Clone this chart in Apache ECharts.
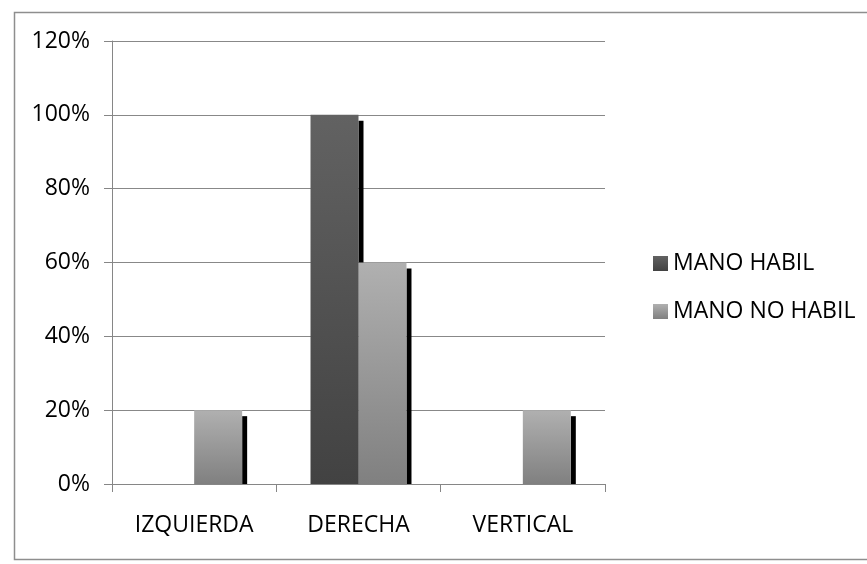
<!DOCTYPE html>
<html>
<head>
<meta charset="utf-8">
<script src="https://cdn.jsdelivr.net/npm/echarts@6/dist/echarts.min.js"></script>
<style>
  html, body { margin: 0; padding: 0; background: #fff; }
  #chart { width: 867px; height: 564px; }
</style>
</head>
<body>
<div id="chart"></div>
<script>
const categories = ['IZQUIERDA', 'DERECHA', 'VERTICAL']
const seriesNames = ['MANO HABIL', 'MANO NO HABIL']
const manoHabil = [0, 1.0, 0]
const manoNoHabil = [0.2, 0.6, 0.2]
const yTicks = [0, 0.2, 0.4, 0.6, 0.8, 1.0, 1.2]

const fontFamily = '"Open Sans", sans-serif'
const fontSize = 23

function grad(top, bottom) {
    return new echarts.graphic.LinearGradient(0, 0, 0, 1, [
        { offset: 0, color: top },
        { offset: 1, color: bottom }
    ])
}

const fills = [
    ['#626262', '#424242'],
    ['#b0b0b0', '#808080']
]

// bar + black shadow on the right, built from the axis scales
function makeRender(seriesIdx) {
    return function (params, api) {
        const ci = api.value(0)
        const v = api.value(1)
        if (!v) return null
        const base = api.coord([ci, 0])
        const top = api.coord([ci, v])
        const band = api.size([1, 0])[0]
        const w = band * 0.292
        const x = seriesIdx === 0 ? base[0] - w : base[0]
        const h = base[1] - top[1]
        return {
            type: 'group',
            children: [
                {
                    type: 'rect',
                    shape: { x: x + w, y: top[1] + 6, width: 5, height: h - 6 },
                    style: { fill: '#000' }
                },
                {
                    type: 'rect',
                    shape: { x: x, y: top[1], width: w, height: h },
                    style: { fill: grad(fills[seriesIdx][0], fills[seriesIdx][1]) }
                }
            ]
        }
    }
}

const chart = echarts.init(document.getElementById('chart'))

chart.setOption({
    animation: false,
    backgroundColor: '#fff',
    graphic: [
        {
            type: 'rect',
            left: 12,
            top: 10,
            shape: { width: 900, height: 547 },
            style: { fill: 'none', stroke: '#8e8e8e', lineWidth: 1.5 },
            z: -1
        }
    ],
    grid: {
        left: 112,
        right: 262,
        top: 41,
        bottom: 80
    },
    legend: {
        orient: 'vertical',
        left: 648,
        top: 247,
        itemWidth: 15,
        itemHeight: 15,
        itemGap: 25,
        itemTextGap: 9,
        icon: 'rect',
        textStyle: { fontFamily: fontFamily, fontSize: fontSize, color: '#000' },
        data: seriesNames
    },
    xAxis: {
        type: 'category',
        data: categories,
        axisLine: { lineStyle: { color: '#868686', width: 1 } },
        axisTick: { show: true, length: 8, lineStyle: { color: '#868686' } },
        axisLabel: {
            margin: 30,
            fontFamily: fontFamily,
            fontSize: fontSize,
            color: '#000'
        }
    },
    yAxis: {
        type: 'value',
        min: 0,
        max: yTicks[yTicks.length - 1],
        interval: 0.2,
        axisLine: { show: true, lineStyle: { color: '#868686', width: 1 } },
        axisTick: { show: true, length: 8, lineStyle: { color: '#868686' } },
        splitLine: { lineStyle: { color: '#888888', width: 1 } },
        axisLabel: {
            margin: 22,
            fontFamily: fontFamily,
            fontSize: fontSize,
            color: '#000',
            formatter: v => Math.round(v * 100) + '%'
        }
    },
    series: [
        {
            name: seriesNames[0],
            type: 'custom',
            renderItem: makeRender(0),
            itemStyle: { color: grad(fills[0][0], fills[0][1]) },
            encode: { x: 0, y: 1 },
            data: manoHabil.map((v, i) => [i, v])
        },
        {
            name: seriesNames[1],
            type: 'custom',
            renderItem: makeRender(1),
            itemStyle: { color: grad(fills[1][0], fills[1][1]) },
            encode: { x: 0, y: 1 },
            data: manoNoHabil.map((v, i) => [i, v])
        }
    ]
})
</script>
</body>
</html>
